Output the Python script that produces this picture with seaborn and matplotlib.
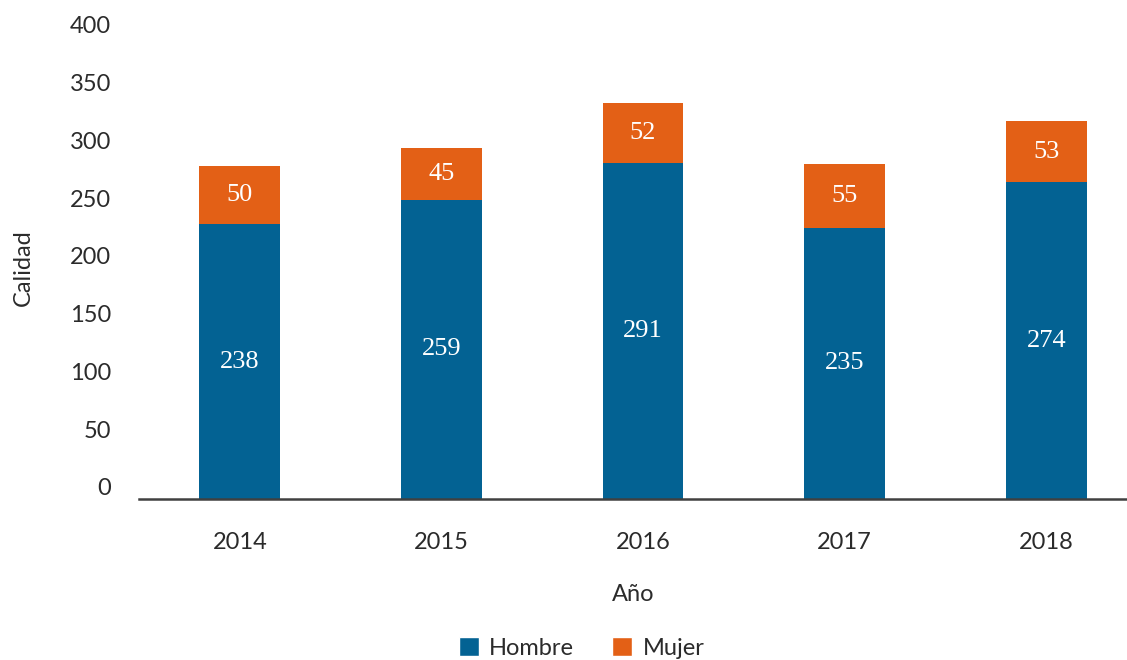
import matplotlib
matplotlib.use("Agg")
import matplotlib.pyplot as plt
from matplotlib.patches import Patch
from matplotlib.transforms import ScaledTranslation
import seaborn as sns
import pandas as pd

# data
years = ["2014", "2015", "2016", "2017", "2018"]
hombre = [238, 259, 291, 235, 274]
mujer = [50, 45, 52, 55, 53]

blue = "#036293"
orange = "#e36016"
text_col = "#2b2b2b"

df = pd.DataFrame({"Año": years, "Hombre": hombre, "Mujer": mujer})
df["Total"] = df["Hombre"] + df["Mujer"]

sns.set_style("white")
plt.rcParams["font.family"] = ["Lato", "DejaVu Sans"]

fig = plt.figure(figsize=(11.27, 6.6), dpi=100)
ax = fig.add_axes([0.1233, 0.244, 0.8767, 0.7])

# stacked bars: full total in orange, hombre drawn over it in blue
sns.barplot(data=df, x="Año", y="Total", color=orange, saturation=1,
            width=0.4, linewidth=0, ax=ax)
sns.barplot(data=df, x="Año", y="Hombre", color=blue, saturation=1,
            width=0.4, linewidth=0, ax=ax)

ax.bar_label(ax.containers[1], labels=[str(v) for v in hombre],
             label_type="center", color="white", fontsize=19,
             family="Liberation Serif")
for i, (h, m) in enumerate(zip(hombre, mujer)):
    ax.text(i, h + m / 2, str(m), ha="center", va="center", color="white",
            fontsize=19, family="Liberation Serif")

ax.set_ylim(0, 400)
ax.set_xlim(-0.5, 4.4)
ax.set_yticks(range(0, 401, 50))

for s in ["top", "right", "left"]:
    ax.spines[s].set_visible(False)
ax.spines["bottom"].set_color("#404040")
ax.spines["bottom"].set_linewidth(1.8)

ax.tick_params(axis="both", length=0, labelsize=17, colors=text_col)
ax.tick_params(axis="y", pad=20)
ax.tick_params(axis="x", pad=24)
shift = ScaledTranslation(0, 12 / 100, fig.dpi_scale_trans)
for lab in ax.get_yticklabels():
    lab.set_transform(lab.get_transform() + shift)

ax.set_ylabel("Calidad", fontsize=17, color=text_col, labelpad=26)
ax.set_xlabel("Año", fontsize=17, color=text_col, labelpad=22)

handles = [Patch(facecolor=blue, label="Hombre"),
           Patch(facecolor=orange, label="Mujer")]
fig.legend(handles=handles, loc="center", bbox_to_anchor=(0.516, 0.018),
           ncol=2, frameon=False, fontsize=17, handlelength=0.85,
           handleheight=0.85, handletextpad=0.45, columnspacing=1.6,
           labelcolor=text_col)

fig.savefig("out.png", dpi=100)
